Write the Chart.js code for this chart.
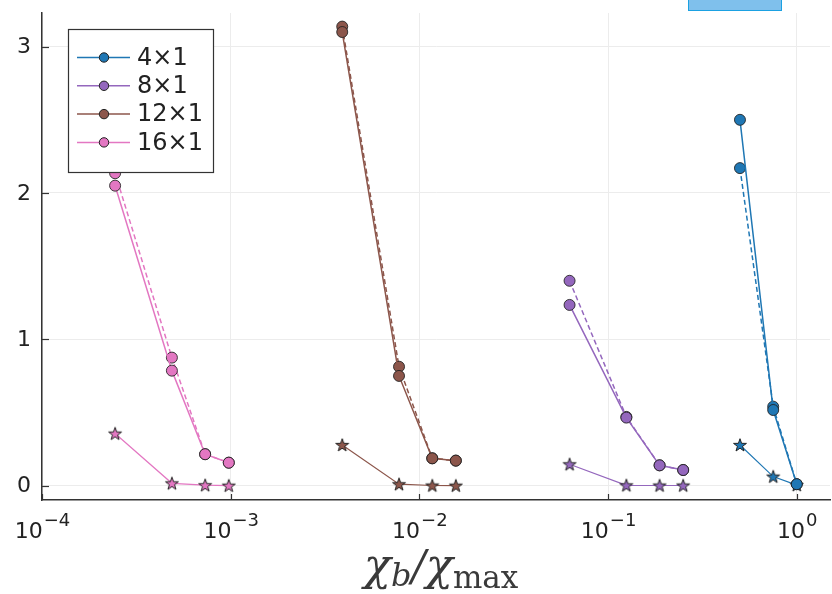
<!DOCTYPE html>
<html lang="en">
<head>
<meta charset="UTF-8">
<title>chi_b / chi_max</title>
<script src="https://cdn.jsdelivr.net/npm/chart.js"></script>
<style>
  body { margin: 0; background: #fff; }
  .wrap { position: relative; width: 832px; height: 594px; overflow: hidden; }
  .tag { position: absolute; left: 688px; top: -2px; width: 92px; height: 11px; background: #7fc0ec; border: 1.5px solid #1ba1e2; }
</style>
</head>
<body>
<div class="wrap">
  <canvas id="grafico" width="832" height="594"></canvas>
  <div class="tag"></div>
</div>
<script>
// nomes e cores das series
const nomes = ['4×1', '8×1', '12×1', '16×1'];
const cores = ['#1f77b4', '#9467bd', '#8c564b', '#e377c2'];

// eixo x: chi_b / chi_max
const x4x1 = [0.5, 0.75, 1.0];
const x8x1 = [0.0625, 0.125, 0.1875, 0.25];
const x12x1 = [0.0039, 0.0078, 0.0117, 0.0156];
const x16x1 = [0.000244, 0.000488, 0.000732, 0.000977];

// circulos, linha cheia
const cheia4x1 = [2.50, 0.517, 0.01];
const cheia8x1 = [1.235, 0.465, 0.139, 0.107];
const cheia12x1 = [3.10, 0.75, 0.187, 0.171];
const cheia16x1 = [2.05, 0.786, 0.215, 0.157];

// circulos, linha tracejada
const trac4x1 = [2.17, 0.54, 0.01];
const trac8x1 = [1.40, 0.47, 0.139, 0.107];
const trac12x1 = [3.137, 0.813, 0.187, 0.171];
const trac16x1 = [2.135, 0.875, 0.215, 0.157];

// estrelas
const estr4x1 = [0.278, 0.062, 0.004];
const estr8x1 = [0.146, 0.002, 0.001, 0.001];
const estr12x1 = [0.278, 0.01, 0.001, 0.0];
const estr16x1 = [0.356, 0.016, 0.003, 0.0];

// rotulos dos eixos
const expoentesX = [-4, -3, -2, -1, 0];
const ticksY = [0, 1, 2, 3];

const grupos = [
  { x: x4x1, cheia: cheia4x1, trac: trac4x1, estr: estr4x1 },
  { x: x8x1, cheia: cheia8x1, trac: trac8x1, estr: estr8x1 },
  { x: x12x1, cheia: cheia12x1, trac: trac12x1, estr: estr12x1 },
  { x: x16x1, cheia: cheia16x1, trac: trac16x1, estr: estr16x1 }
];

function pares(xs, ys) {
  return xs.map(function (x, i) { return { x: x, y: ys[i] }; });
}

function estrela(cor) {
  const c = document.createElement('canvas');
  c.width = 16; c.height = 16;
  const g = c.getContext('2d');
  g.beginPath();
  for (let i = 0; i < 10; i++) {
    const r = i % 2 ? 2.7 : 6.8;
    const a = -Math.PI / 2 + i * Math.PI / 5;
    const px = 8 + r * Math.cos(a), py = 8.5 + r * Math.sin(a);
    if (i == 0) g.moveTo(px, py); else g.lineTo(px, py);
  }
  g.closePath();
  g.fillStyle = cor;
  g.fill();
  g.strokeStyle = '#222';
  g.lineWidth = 1;
  g.stroke();
  return c;
}

let datasets = [];
for (let i = 0; i < grupos.length; i++) {
  const gr = grupos[i], cor = cores[i];
  datasets.push({
    label: nomes[i], data: pares(gr.x, gr.cheia),
    borderColor: cor, borderWidth: 1.5, backgroundColor: cor,
    pointRadius: 5.5, pointBorderColor: 'rgba(30,30,30,0.85)', pointBorderWidth: 1
  });
  datasets.push({
    label: nomes[i] + ' tracejada', data: pares(gr.x, gr.trac),
    borderColor: cor, borderWidth: 1.5, borderDash: [5, 3], backgroundColor: cor,
    pointRadius: 5.5, pointBorderColor: 'rgba(30,30,30,0.85)', pointBorderWidth: 1
  });
  datasets.push({
    label: nomes[i] + ' estrela', data: pares(gr.x, gr.estr),
    borderColor: cor, borderWidth: 1.2, backgroundColor: cor,
    pointStyle: estrela(cor), pointRadius: 7
  });
}

// desenha ticks internos, rotulos, titulo do eixo x e legenda
const extras = {
  id: 'extras',
  afterDraw(chart) {
    const ctx = chart.ctx, xs = chart.scales.x, ys = chart.scales.y, area = chart.chartArea;
    ctx.save();
    ctx.strokeStyle = '#333';
    ctx.lineWidth = 1.2;
    ys.ticks.forEach(function (t) {
      const py = Math.round(ys.getPixelForValue(t.value)) + 0.5;
      ctx.beginPath(); ctx.moveTo(area.left, py); ctx.lineTo(area.left + 7, py); ctx.stroke();
    });
    xs.ticks.forEach(function (t) {
      const px = Math.round(xs.getPixelForValue(t.value)) + 0.5;
      ctx.beginPath(); ctx.moveTo(px, area.bottom); ctx.lineTo(px, area.bottom - 6); ctx.stroke();
    });

    // rotulos do eixo y
    ctx.fillStyle = '#222';
    ctx.font = '22px "DejaVu Sans"';
    ctx.textAlign = 'right';
    ctx.textBaseline = 'middle';
    ticksY.forEach(function (v) {
      ctx.fillText(String(v), 31, ys.getPixelForValue(v) + 1);
    });

    // rotulos 10^n
    ctx.textBaseline = 'alphabetic';
    ctx.textAlign = 'left';
    expoentesX.forEach(function (e) {
      const px = xs.getPixelForValue(Math.pow(10, e));
      const base = '10', sup = (e < 0 ? '\u2212' : '') + Math.abs(e);
      ctx.font = '22px "DejaVu Sans"';
      const wb = ctx.measureText(base).width;
      ctx.font = '18px "DejaVu Sans"';
      const ws = ctx.measureText(sup).width;
      const x0 = px - (wb + ws) / 2;
      ctx.font = '22px "DejaVu Sans"';
      ctx.fillText(base, x0, 538);
      ctx.font = '18px "DejaVu Sans"';
      ctx.fillText(sup, x0 + wb + 1, 526);
    });

    // titulo do eixo x
    const partes = [
      { t: 'χ', f: 'italic 45px "DejaVu Serif"', dy: 0 },
      { t: 'b', f: 'italic 32px "DejaVu Serif"', dy: 6 },
      { t: '/', f: 'italic 42px "DejaVu Serif"', dy: 0 },
      { t: 'χ', f: 'italic 45px "DejaVu Serif"', dy: 0 },
      { t: 'max', f: '31px "DejaVu Serif"', dy: 8 }
    ];
    let total = 0;
    partes.forEach(function (p) { ctx.font = p.f; p.w = ctx.measureText(p.t).width; total += p.w; });
    let cx = 441 - total / 2;
    ctx.fillStyle = '#3a3a3a';
    partes.forEach(function (p) { ctx.font = p.f; ctx.fillText(p.t, cx, 580 + p.dy); cx += p.w; });

    // legenda
    const lx = 68, ly = 29, lw = 145, lh = 143;
    ctx.fillStyle = '#fff';
    ctx.fillRect(lx, ly, lw, lh);
    ctx.strokeStyle = '#333';
    ctx.lineWidth = 1.2;
    ctx.strokeRect(lx + 0.5, ly + 0.5, lw, lh);
    ctx.font = '24px "DejaVu Sans"';
    ctx.textBaseline = 'middle';
    nomes.forEach(function (n, i) {
      const y = 57.5 + i * 28.3;
      ctx.strokeStyle = cores[i];
      ctx.lineWidth = 1.5;
      ctx.beginPath(); ctx.moveTo(77, y); ctx.lineTo(130, y); ctx.stroke();
      ctx.beginPath(); ctx.arc(104, y, 4.7, 0, Math.PI * 2);
      ctx.fillStyle = cores[i]; ctx.fill();
      ctx.strokeStyle = '#222'; ctx.lineWidth = 1; ctx.stroke();
      ctx.fillStyle = '#222';
      ctx.fillText(n, 137, y + 1);
    });
    ctx.restore();
  }
};

const config = {
  type: 'line',
  data: { datasets: datasets },
  options: {
    responsive: false,
    animation: false,
    layout: { autoPadding: false, padding: { top: 13, right: 2, left: 0, bottom: 0 } },
    plugins: { legend: { display: false }, tooltip: { enabled: false } },
    scales: {
      x: {
        type: 'logarithmic', min: 1e-4, max: 1.5,
        afterBuildTicks: function (s) { s.ticks = expoentesX.map(function (e) { return { value: Math.pow(10, e) }; }); },
        afterFit: function (s) { s.height = 94; },
        grid: { color: '#ececec', drawTicks: false },
        border: { color: '#333', width: 1.5 },
        ticks: { display: false }
      },
      y: {
        type: 'linear', min: -0.098, max: 3.23,
        afterBuildTicks: function (s) { s.ticks = ticksY.map(function (v) { return { value: v }; }); },
        afterFit: function (s) { s.width = 42; },
        grid: { color: '#ececec', drawTicks: false },
        border: { color: '#333', width: 1.5 },
        ticks: { display: false }
      }
    }
  },
  plugins: [extras]
};

let myChart = new Chart(document.getElementById('grafico'), config);
</script>
</body>
</html>
